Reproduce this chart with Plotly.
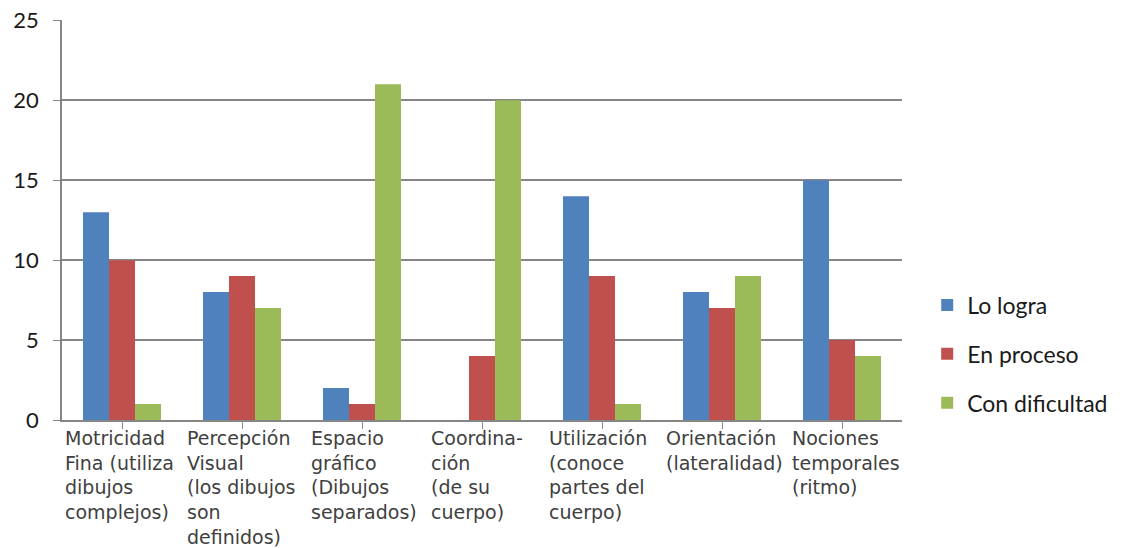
import plotly.graph_objects as go

categories = [
    "Motricidad<br>Fina (utiliza<br>dibujos<br>complejos)",
    "Percepción<br>Visual<br>(los dibujos<br>son<br>definidos)",
    "Espacio<br>gráfico<br>(Dibujos<br>separados)",
    "Coordina-<br>ción<br>(de su<br>cuerpo)",
    "Utilización<br>(conoce<br>partes del<br>cuerpo)",
    "Orientación<br>(lateralidad)",
    "Nociones<br>temporales<br>(ritmo)",
]
series_names = ["Lo logra", "En proceso", "Con dificultad"]
lo_logra = [13, 8, 2, 0, 14, 8, 15]
en_proceso = [10, 9, 1, 4, 9, 7, 5]
con_dificultad = [1, 7, 21, 20, 1, 9, 4]
colors = ["#4F81BD", "#C0504D", "#9BBB59"]

x_idx = list(range(len(categories)))
fig = go.Figure()
for i, (name, vals) in enumerate(zip(series_names, [lo_logra, en_proceso, con_dificultad])):
    fig.add_trace(go.Bar(x=x_idx, y=vals, name=name, marker_color=colors[i],
                         marker_line_width=0, legendgroup=name))

label_shift = [3, 5, 9, 9, 7, 4, 10]
for i, lab in enumerate(categories):
    fig.add_annotation(x=i - 0.5, y=0, xref="x", yref="paper", text=lab,
                       xanchor="left", yanchor="top", align="left", showarrow=False,
                       xshift=label_shift[i] - 2, yshift=-5,
                       font=dict(family="DejaVu Sans", size=19, color="#404040"))

fig.update_layout(
    width=1125, height=548,
    margin=dict(l=62, r=220, t=20, b=128),
    paper_bgcolor="white", plot_bgcolor="white",
    barmode="group", bargap=0.35, bargroupgap=0,
    legend=dict(x=1.03, xanchor="left", y=0.165, yanchor="middle",
                font=dict(family="Lato, Open Sans", size=23, color="#1a1a1a"),
                tracegroupgap=16, traceorder="grouped", borderwidth=0),
    xaxis=dict(range=[-0.5, 6.5], tickmode="array", tickvals=x_idx, showticklabels=False,
               ticks="outside", ticklen=7, tickcolor="#868686", tickson="boundaries",
               showline=True, linecolor="#868686", linewidth=1.5, showgrid=False,
               zeroline=False, automargin=False),
    yaxis=dict(range=[0, 25.02], tickvals=[0, 5, 10, 15, 20, 25], showgrid=True,
               gridcolor="#868686", gridwidth=1.5,
               showline=True, linecolor="#868686", linewidth=1.5, ticks="outside", ticklen=7,
               tickcolor="#868686", zeroline=False, ticklabelstandoff=10, automargin=False,
               tickfont=dict(family="Lato, Open Sans", size=22, color="#1a1a1a")),
)
fig.write_html("out.html")
